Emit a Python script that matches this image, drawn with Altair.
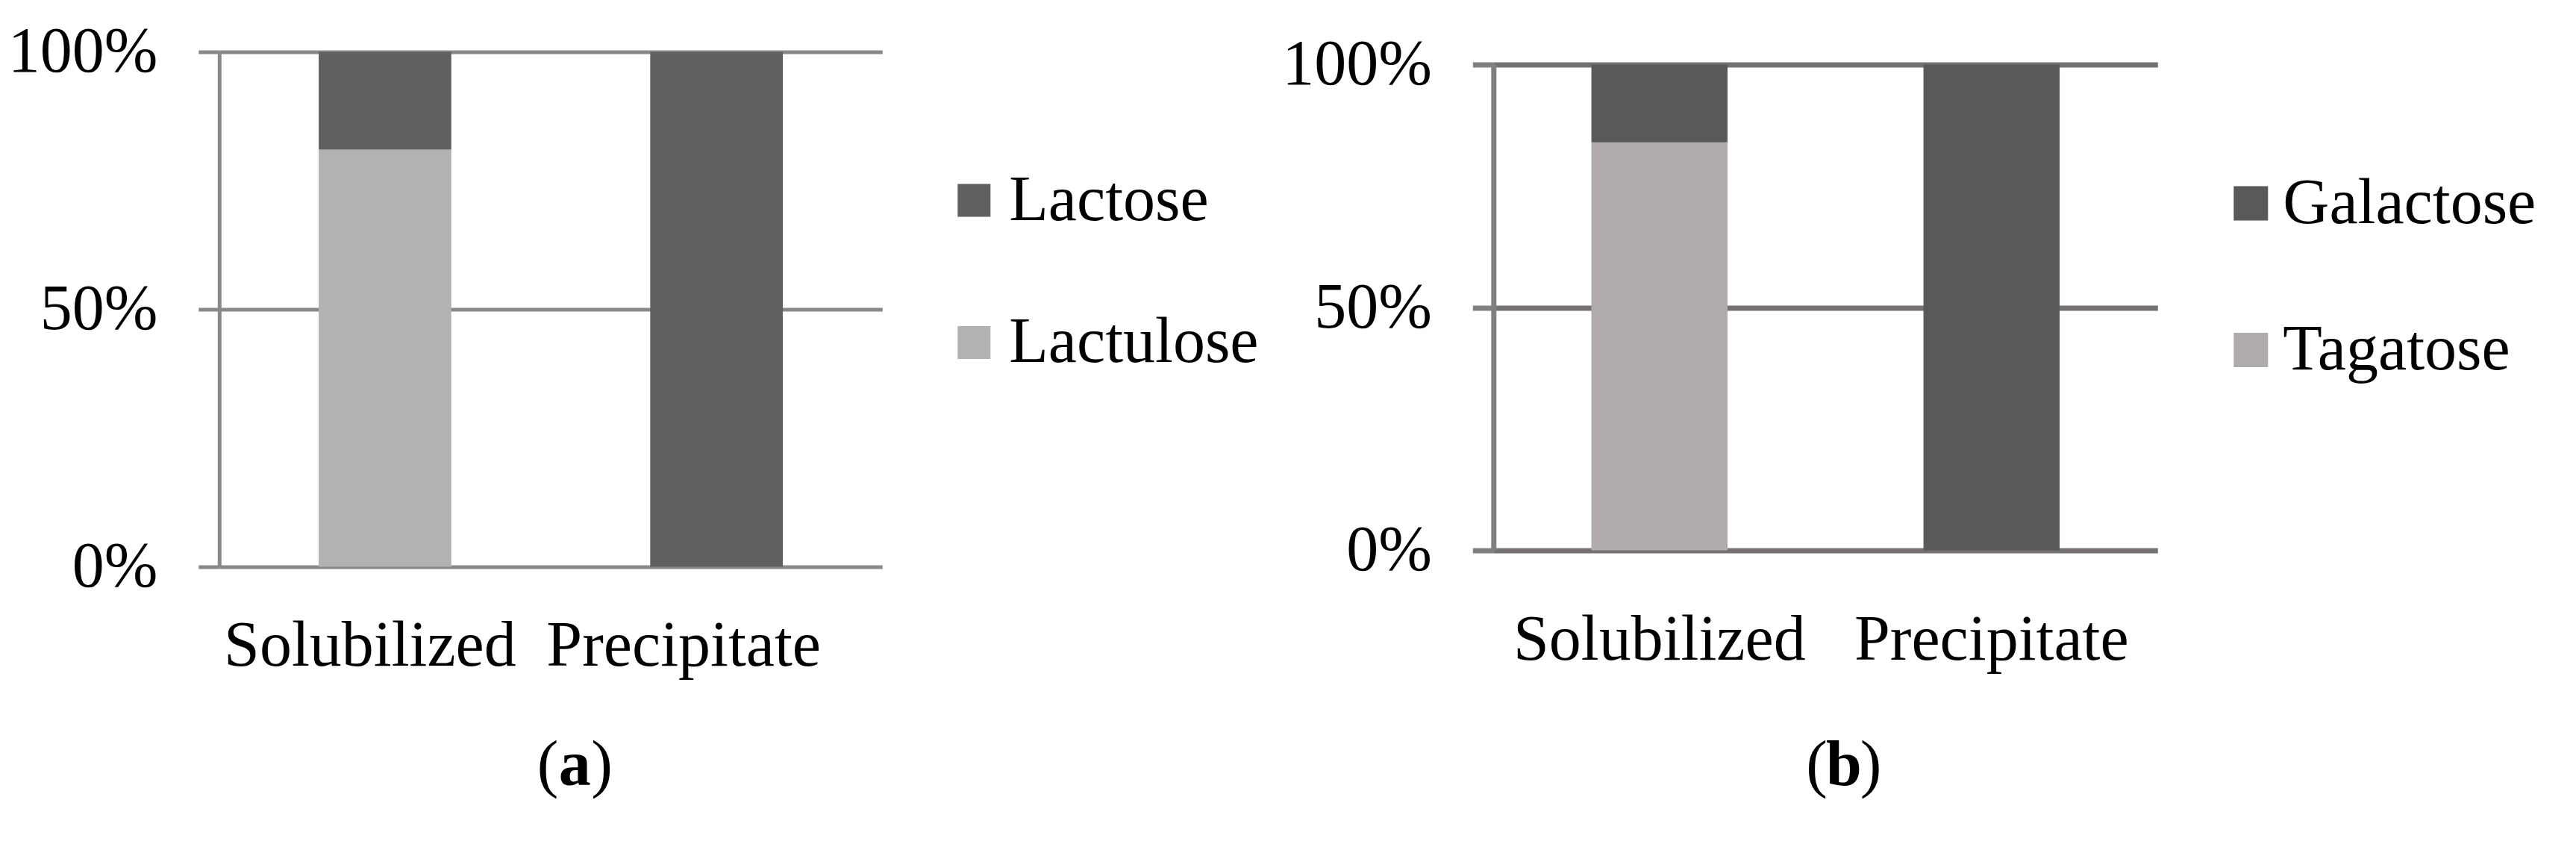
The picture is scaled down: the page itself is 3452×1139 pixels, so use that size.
import altair as alt
import pandas as pd

# ---------------- data ----------------
categories = ["Solubilized", "Precipitate"]

a_series = ["Lactose", "Lactulose"]          # legend order (top series first)
a_lactose = [0.19, 1.00]
a_lactulose = [0.81, 0.00]

b_series = ["Galactose", "Tagatose"]
b_galactose = [0.16, 1.00]
b_tagatose = [0.84, 0.00]

y_ticks = [0, 0.5, 1]

FONT = "Liberation Serif"
FS = 86


def make_df(series, top_vals, bottom_vals):
    rows = []
    for i, c in enumerate(categories):
        rows.append({"cat": c, "series": series[1], "value": bottom_vals[i], "ord": 0})
        rows.append({"cat": c, "series": series[0], "value": top_vals[i], "ord": 1})
    return pd.DataFrame(rows)


def caption(letter, cx, by):
    parts = []
    specs = [("(", "right", "normal", -22), (letter, "center", "bold", 0), (")", "left", "normal", 22)]
    for txt, align, weight, dx in specs:
        parts.append(
            alt.Chart(pd.DataFrame({"t": [txt]}))
            .mark_text(font=FONT, fontSize=FS, align=align, baseline="alphabetic",
                       fontWeight=weight, color="#000000")
            .encode(text="t:N", x=alt.value(cx + dx), y=alt.value(by))
        )
    return parts


def panel(df, series, colors, width, height, yrange, line_color, grid_color, tick_color,
          line_w, pad_in, x_label_pad, x_label_offset, legend_x, legend_y, row_pad,
          sym, label_off, letter, cap_x, cap_y):
    bars = alt.Chart(df).mark_bar().encode(
        x=alt.X("cat:N", sort=categories, title=None,
                scale=alt.Scale(paddingInner=pad_in, paddingOuter=pad_in / 2),
                axis=alt.Axis(domain=False, ticks=False, tickSize=0, grid=False,
                              labelFont=FONT, labelFontSize=FS, labelColor="#000000",
                              labelPadding=x_label_pad, labelBaseline="alphabetic",
                              labelAngle=0, labelOverlap=False, labelLimit=0,
                              labelOffset=x_label_offset)),
        y=alt.Y("value:Q", stack="zero", title=None,
                scale=alt.Scale(domain=[0, 1], range=yrange, nice=False),
                axis=alt.Axis(values=y_ticks, format=".0%", grid=True,
                              gridColor=grid_color, gridWidth=line_w,
                              domain=True, domainColor=line_color, domainWidth=line_w,
                              ticks=True, tickColor=tick_color, tickWidth=line_w, tickSize=28,
                              labelFont=FONT, labelFontSize=FS, labelColor="#000000",
                              labelPadding=55, labelLimit=0, labelOverlap=False)),
        color=alt.Color("series:N",
                        scale=alt.Scale(domain=series, range=colors),
                        legend=alt.Legend(title=None, orient="none", legendX=legend_x,
                                          legendY=legend_y, symbolType="square",
                                          symbolSize=sym * sym, symbolStrokeWidth=0,
                                          labelFont=FONT, labelFontSize=FS,
                                          labelColor="#000000", labelOffset=label_off,
                                          labelLimit=2000,
                                          rowPadding=row_pad, padding=0,
                                          direction="vertical")),
        order=alt.Order("ord:Q"),
    )
    layers = [bars] + caption(letter, cap_x, cap_y)
    return alt.layer(*layers).properties(width=width, height=height)


df_a = make_df(a_series, a_lactose, a_lactulose)
df_b = make_df(b_series, b_galactose, b_tagatose)

panel_a = panel(df_a, a_series, ["#606060", "#B2B2B2"], 888.5, 690, [690, 0],
                "#898989", "#898989", "#898989", 5, 0.6, 132.5,
                {"condition": {"test": "datum.value == 'Solubilized'", "value": -20}, "value": -44},
                968.5, 156, 104.5, 44, 4, "a", 476.5, 982.5)

panel_b = panel(df_b, b_series, ["#595959", "#AFABAB"], 890, 668, [668, 17],
                "#808080", "#767171", "#808080", 7, 0.59, 146.5, 0,
                972, 160, 110.5, 46, 0, "b", 469.5, 982.5)

chart = (
    alt.hconcat(panel_a, panel_b, spacing=818.5, bounds="flush")
    .resolve_scale(color="independent", x="independent", y="independent")
    .properties(padding={"left": 1.8, "top": 18.5, "right": 0, "bottom": 0},
                background="#ffffff")
    .configure_view(stroke=None)
)

chart.save("out.html", embed_options={"renderer": "svg", "actions": False})
